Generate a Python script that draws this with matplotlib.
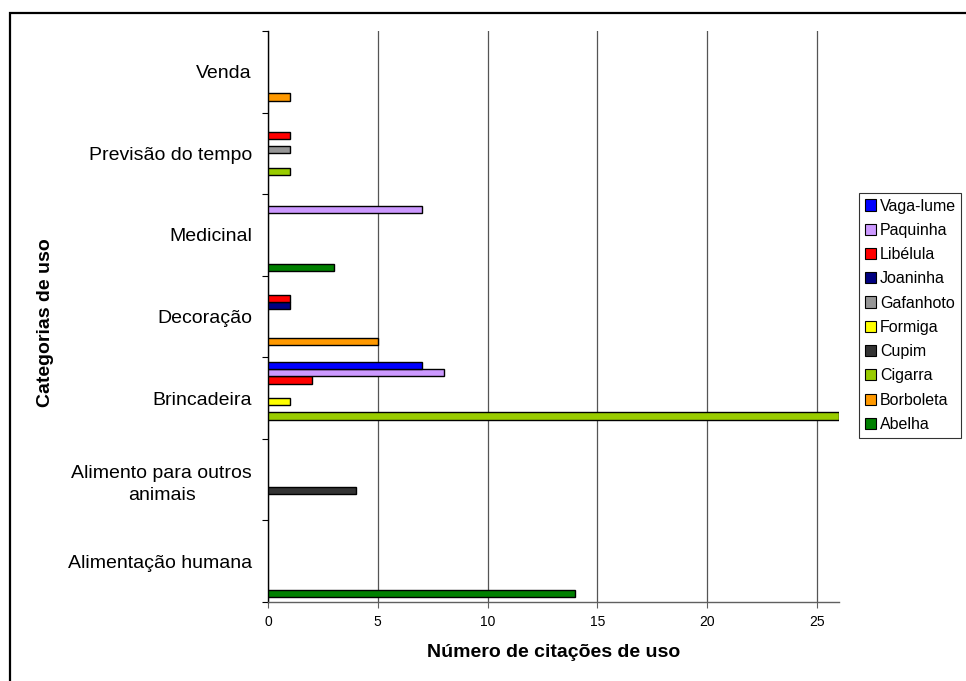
import matplotlib
matplotlib.use("Agg")
import matplotlib.pyplot as plt
import numpy as np
from matplotlib.patches import Patch, Rectangle

plt.rcParams['font.family'] = ['Liberation Sans', 'DejaVu Sans']

# Categories (bottom to top)
categories = ['Alimentação humana', 'Alimento para outros\nanimais', 'Brincadeira',
              'Decoração', 'Medicinal', 'Previsão do tempo', 'Venda']

# Series (bottom to top inside each group)
series = ['Abelha', 'Borboleta', 'Cigarra', 'Cupim', 'Formiga',
          'Gafanhoto', 'Joaninha', 'Libélula', 'Paquinha', 'Vaga-lume']
colors = ['#008000', '#FF9900', '#99CC00', '#333333', '#FFFF00',
          '#969696', '#000080', '#FF0000', '#CC99FF', '#0000FF']

abelha    = [14, 0, 0, 0, 3, 0, 0]
borboleta = [0, 0, 0, 5, 0, 0, 1]
cigarra   = [0, 0, 26, 0, 0, 1, 0]
cupim     = [0, 4, 0, 0, 0, 0, 0]
formiga   = [0, 0, 1, 0, 0, 0, 0]
gafanhoto = [0, 0, 0, 0, 0, 1, 0]
joaninha  = [0, 0, 0, 1, 0, 0, 0]
libelula  = [0, 0, 2, 1, 0, 1, 0]
paquinha  = [0, 0, 8, 0, 7, 0, 0]
vagalume  = [0, 0, 7, 0, 0, 0, 0]

values = [abelha, borboleta, cigarra, cupim, formiga,
          gafanhoto, joaninha, libelula, paquinha, vagalume]

fig = plt.figure(figsize=(9.66, 6.81), dpi=100)
ax = fig.add_axes([268 / 966, 1 - 602 / 681, 571 / 966, 571 / 681])

y = np.arange(len(categories))
slot = 0.0883
for k, (name, vals) in enumerate(zip(series, values)):
    v = np.array(vals, dtype=float)
    mask = v > 0
    ax.barh(y[mask] + (k - 4.5) * slot, v[mask], height=slot,
            color=colors[k], edgecolor='black', linewidth=1.0, zorder=3)

ax.set_xlim(0, 26)
ax.set_ylim(-0.5, len(categories) - 0.5)

# x axis
ax.set_xticks(np.arange(0, 26, 5))
ax.tick_params(axis='x', direction='out', length=4, width=0.8, labelsize=10, pad=5,
               color='#606060')
ax.grid(axis='x', color='#555555', linewidth=0.9, zorder=0)

# y axis: ticks at boundaries, labels in the middle
ax.set_yticks(np.arange(-0.5, len(categories), 1.0))
ax.set_yticklabels([])
ax.set_yticks(y, minor=True)
ax.set_yticklabels(categories, minor=True, fontsize=14, multialignment='center',
                   linespacing=1.45)
ax.tick_params(axis='y', which='major', direction='out', length=4, width=0.8)
ax.tick_params(axis='y', which='minor', length=0, pad=11.5)

for s in ['top', 'right']:
    ax.spines[s].set_visible(False)
ax.spines['left'].set_color('black')
ax.spines['left'].set_linewidth(1.0)
ax.spines['bottom'].set_color('#606060')
ax.spines['bottom'].set_linewidth(1.0)

ax.set_xlabel('Número de citações de uso', fontsize=14, fontweight='bold')
ax.xaxis.set_label_coords(0.5, -0.0876)
ax.xaxis.label.set_va('center')
ax.set_ylabel('Categorias de uso', fontsize=14, fontweight='bold')
ax.yaxis.set_label_coords(-0.3905, 0.49)
ax.yaxis.label.set_va('center')
ax.yaxis.label.set_ha('center')

# Legend, top to bottom as in the original
handles = [Patch(facecolor=colors[k], edgecolor='black', linewidth=0.8, label=series[k])
           for k in range(len(series) - 1, -1, -1)]
leg = fig.legend(handles=handles, loc='upper left',
                 bbox_to_anchor=(859 / 966, 1 - 193 / 681),
                 fontsize=11.5, frameon=True, fancybox=False, edgecolor='black',
                 handlelength=0.7, handleheight=0.7, handletextpad=0.25,
                 labelspacing=0.58, borderpad=0.35, borderaxespad=0)
leg.get_frame().set_linewidth(0.8)

# outer border (cut off at right and bottom like the source)
fig.patches.append(Rectangle((10 / 966, -0.1), 1.2, 1 - 13 / 681 + 0.1,
                             transform=fig.transFigure, fill=False,
                             edgecolor='black', linewidth=1.6))

fig.savefig('out.png', dpi=100)
